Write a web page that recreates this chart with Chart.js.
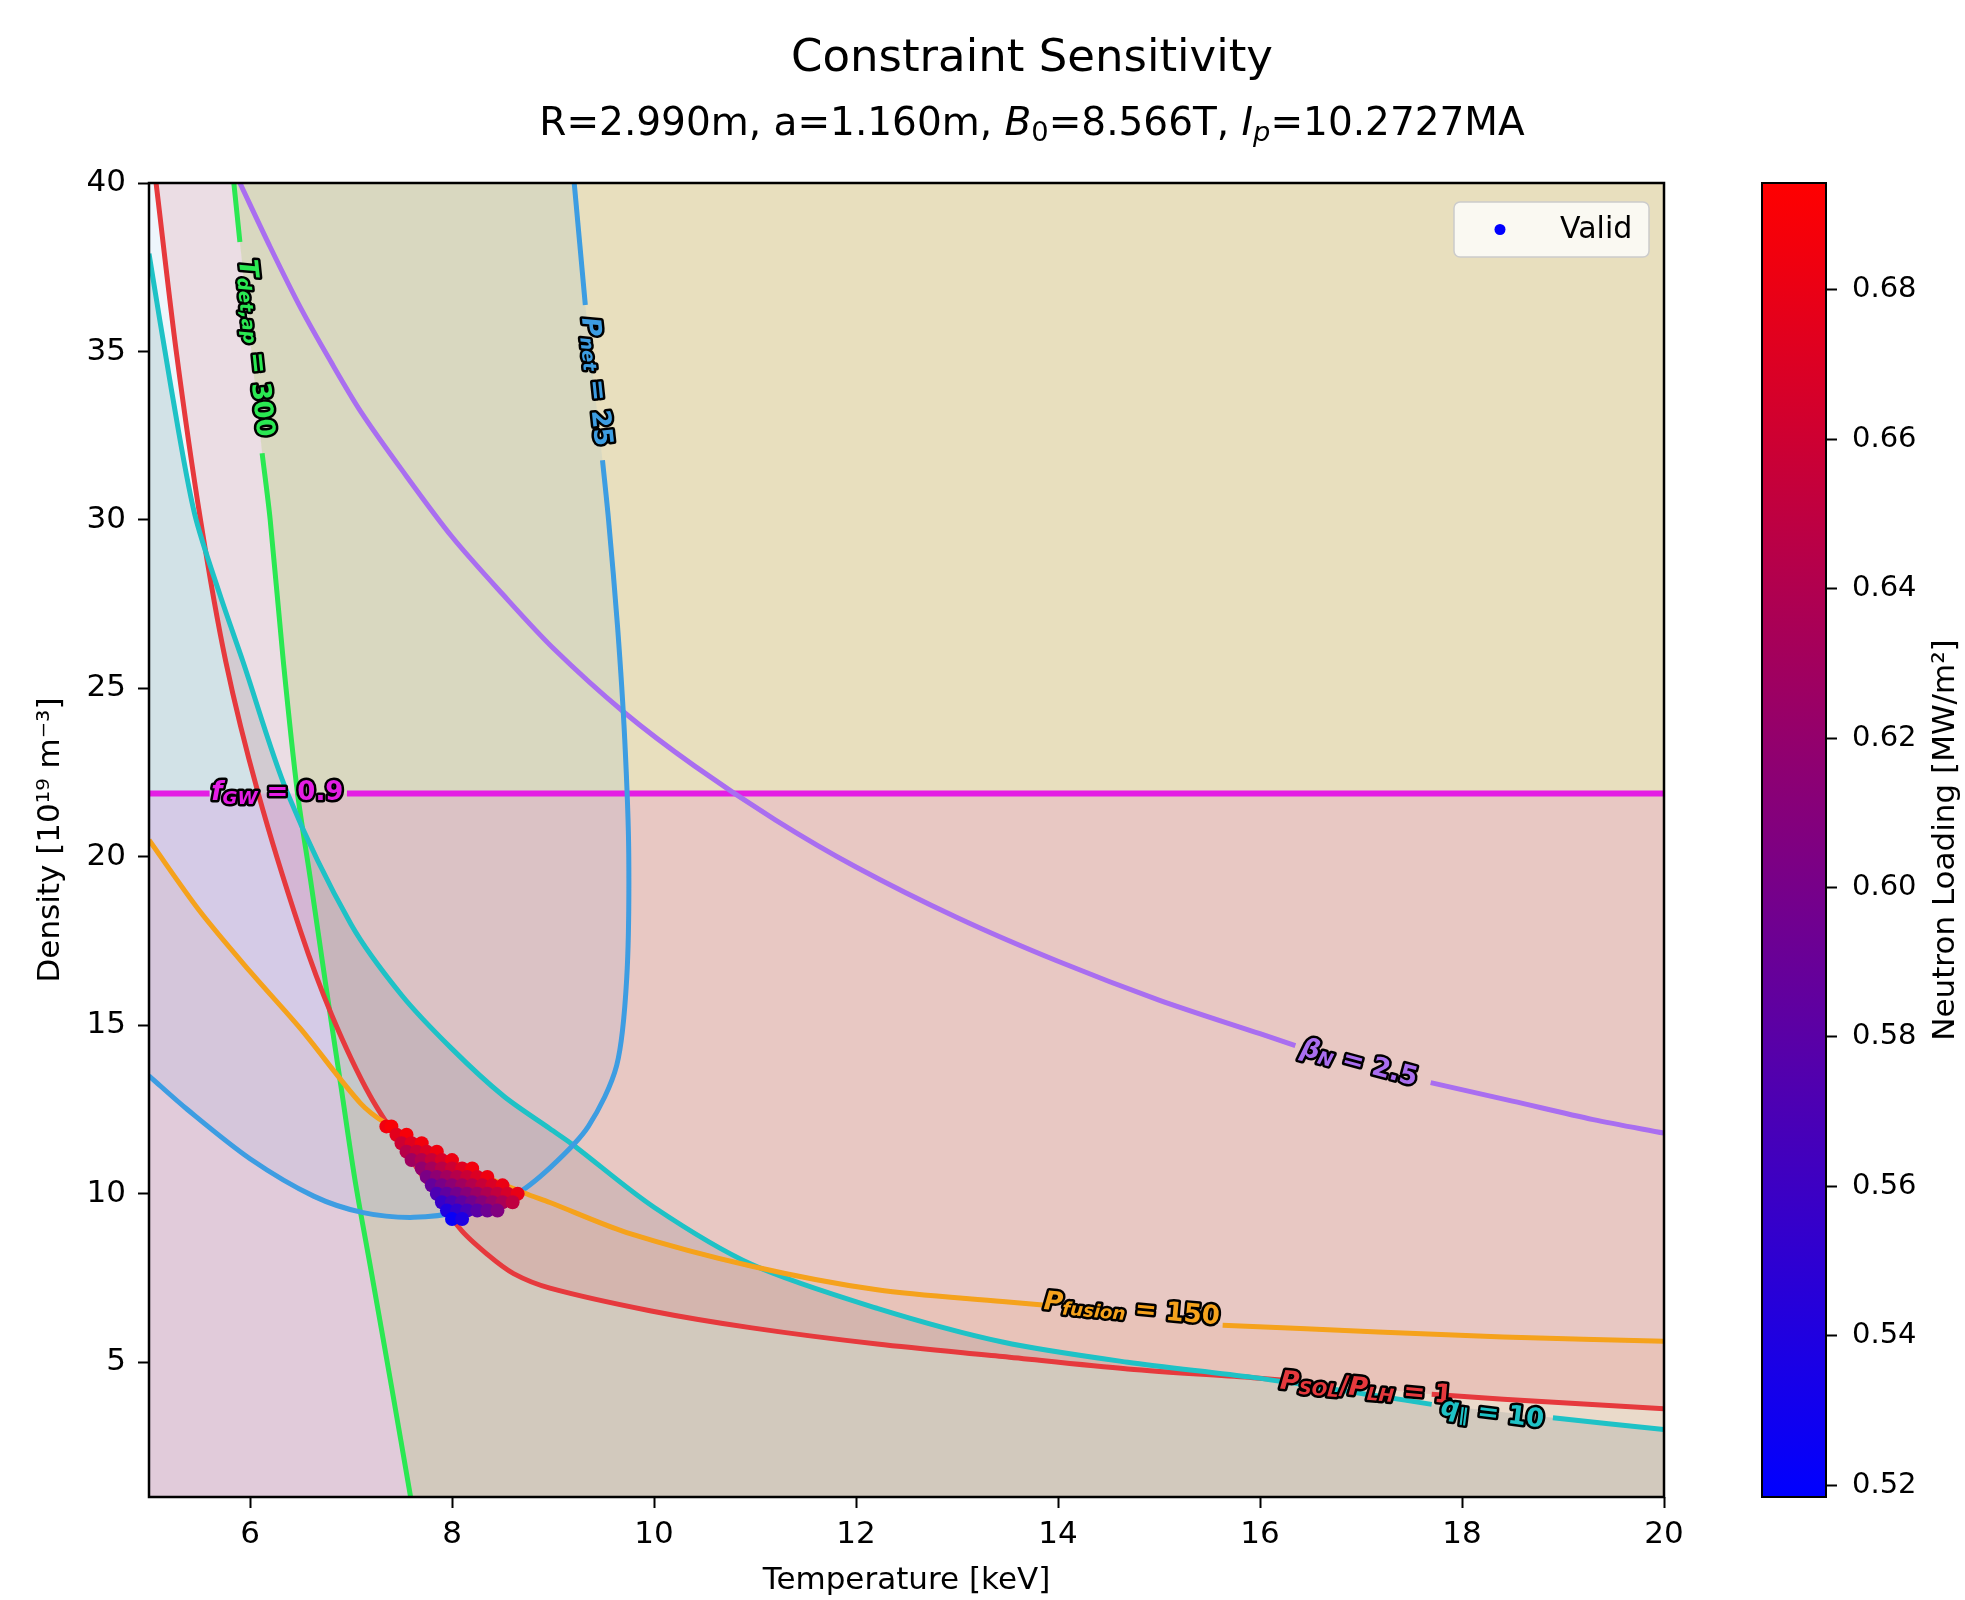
<!DOCTYPE html>
<html>
<head>
<meta charset="utf-8">
<title>Constraint Sensitivity</title>
<script src="https://cdn.jsdelivr.net/npm/chart.js@4.4.1/dist/chart.umd.min.js"></script>
<style>
  html, body { margin: 0; padding: 0; background: #fff; overflow: hidden; }
  #wrap { position: relative; width: 1965px; height: 1600px; }
  #main { position: absolute; left: 0; top: 0; }
  #cbar { position: absolute; left: 1700px; top: 0; }
</style>
</head>
<body>
<div id="wrap">
  <canvas id="main" width="1965" height="1600"></canvas>
  <canvas id="cbar" width="265" height="1600"></canvas>
</div>
<script>
// Constraint sensitivity map — density vs temperature with constraint contours,
// shaded allowed sides and the valid operating points coloured by neutron loading.

const FONT = "'DejaVu Sans', sans-serif";

// --- Data -------------------------------------------------------------------

const T_MIN = 5, T_MAX = 20, T_STEP = 2;
const N_MIN = 1, N_MAX = 40, N_STEP = 5;
const CB_MIN = 0.5184, CB_MAX = 0.6943, CB_STEP = 0.02;

// Contours: temperature [keV] and density [1e19 m^-3].
// null = break in the line where the inline label sits.
const fgwT = [5.0, 5.6, null, 6.96, 20.0];
const fgwN = [21.88, 21.88, null, 21.88, 21.88];

const betaT = [5.9, 6.2, 6.5, 6.8, 7.1, 7.5, 8.0, 8.5, 9.0, 9.7, 10.4, 11.2, 12.0, 13.0, 14.0, 15.0, 16.0, 16.35, null, 17.69, 18.5, 19.3, 20.0];
const betaN = [40.0, 38.1, 36.3, 34.7, 33.2, 31.5, 29.5, 27.8, 26.2, 24.3, 22.7, 21.1, 19.7, 18.2, 16.9, 15.75, 14.75, 14.4, null, 13.3, 12.75, 12.2, 11.8];

const pnetT = [5.0, 5.38, 6.0, 6.63, 7.12, 7.62, 8.11, 8.61, 8.98, 9.35, 9.63, 9.73, 9.75, 9.71, 9.64, 9.55, 9.49, null, 9.32, 9.21];
const pnetN = [13.5, 12.5, 11.04, 9.93, 9.44, 9.3, 9.48, 9.95, 10.8, 12.0, 13.8, 16.4, 20.1, 23.5, 26.8, 30.0, 31.77, null, 36.38, 40.0];

const pfusT = [5.0, 5.5, 6.0, 6.5, 7.09, 7.34, 8.0, 8.71, 8.97, 9.73, 10.97, 12.21, 13.45, 13.85, null, 15.63, 17.17, 18.41, 20.0];
const pfusN = [20.5, 18.4, 16.6, 14.9, 12.7, 12.1, 10.95, 10.03, 9.74, 8.85, 7.85, 7.15, 6.8, 6.7, null, 6.1, 5.9, 5.75, 5.62];

const psolT = [5.07, 5.27, 5.51, 5.76, 6.08, 6.5, 6.81, 7.19, 7.6, 8.08, 8.35, 8.61, 8.97, 9.96, 10.97, 12.21, 13.45, 14.69, 15.93, 16.3, null, 17.7, 18.41, 20.0];
const psolN = [40.0, 35.0, 30.0, 25.8, 21.9, 17.8, 15.3, 12.9, 11.0, 8.96, 8.2, 7.63, 7.2, 6.53, 6.02, 5.54, 5.17, 4.8, 4.54, 4.45, null, 4.05, 3.9, 3.62];

const qT = [5.0, 5.22, 5.45, 5.7, 5.93, 6.37, 7.0, 7.5, 8.0, 8.51, 8.97, 9.19, 10.0, 10.97, 12.21, 13.45, 14.69, 15.93, 17.17, 17.7, null, 18.9, 20.0];
const qN = [37.9, 33.9, 30.2, 27.8, 25.8, 21.9, 18.0, 15.9, 14.3, 12.9, 11.93, 11.47, 9.6, 7.9, 6.6, 5.6, 5.0, 4.55, 4.0, 3.75, null, 3.35, 3.0];

const tdetT = [5.84, 5.9, null, 6.12, 6.2, 6.33, 6.47, 6.6, 6.75, 6.9, 7.04, 7.2, 7.4, 7.59];
const tdetN = [40.0, 38.25, null, 31.98, 30.0, 25.8, 21.9, 19.3, 16.2, 13.2, 10.4, 7.7, 4.3, 1.0];

// Valid operating points and their neutron wall loading [MW/m^2]
const validT = [
  7.35, 7.40,
  7.45, 7.55,
  7.50, 7.60, 7.70,
  7.55, 7.65, 7.75, 7.85,
  7.60, 7.70, 7.80, 7.90, 8.00,
  7.70, 7.80, 7.90, 8.00, 8.10, 8.20,
  7.75, 7.85, 7.95, 8.05, 8.15, 8.25, 8.35,
  7.80, 7.90, 8.00, 8.10, 8.20, 8.30, 8.40, 8.50,
  7.85, 7.95, 8.05, 8.15, 8.25, 8.35, 8.45, 8.55, 8.65,
  7.90, 8.00, 8.10, 8.20, 8.30, 8.40, 8.50, 8.60,
  7.95, 8.05, 8.15, 8.25, 8.35, 8.45,
  8.00, 8.10,
];
const validN = [
  12.0, 12.0,
  11.75, 11.75,
  11.5, 11.5, 11.5,
  11.25, 11.25, 11.25, 11.25,
  11.0, 11.0, 11.0, 11.0, 11.0,
  10.75, 10.75, 10.75, 10.75, 10.75, 10.75,
  10.5, 10.5, 10.5, 10.5, 10.5, 10.5, 10.5,
  10.25, 10.25, 10.25, 10.25, 10.25, 10.25, 10.25, 10.25,
  10.0, 10.0, 10.0, 10.0, 10.0, 10.0, 10.0, 10.0, 10.0,
  9.75, 9.75, 9.75, 9.75, 9.75, 9.75, 9.75, 9.75,
  9.5, 9.5, 9.5, 9.5, 9.5, 9.5,
  9.25, 9.25,
];
const validLoad = [
  0.684, 0.690,
  0.675, 0.689,
  0.659, 0.673, 0.686,
  0.644, 0.657, 0.670, 0.684,
  0.628, 0.641, 0.655, 0.668, 0.682,
  0.619, 0.632, 0.646, 0.659, 0.673, 0.686,
  0.603, 0.616, 0.630, 0.643, 0.657, 0.670, 0.684,
  0.587, 0.601, 0.614, 0.628, 0.641, 0.655, 0.668, 0.681,
  0.571, 0.585, 0.598, 0.612, 0.625, 0.639, 0.652, 0.666, 0.679,
  0.556, 0.569, 0.583, 0.596, 0.610, 0.623, 0.636, 0.650,
  0.540, 0.553, 0.567, 0.580, 0.594, 0.607,
  0.524, 0.538,
];

// --- Styles -----------------------------------------------------------------

const C_FGW = '#e41ee4';
const C_BETA = '#a96ef0';
const C_PNET = '#3d9de2';
const C_PFUS = '#f5a21c';
const C_PSOL = '#e6393d';
const C_Q = '#1ec2c6';
const C_TDET = '#2ae852';
const CMAP = ['#0000ff', '#800080', '#ff0000'];

function hexRgba(hex, a) {
  const v = parseInt(hex.slice(1), 16);
  return `rgba(${(v >> 16) & 255}, ${(v >> 8) & 255}, ${v & 255}, ${a})`;
}

function cmapColor(value) {
  const t = Math.min(1, Math.max(0, (value - CB_MIN) / (CB_MAX - CB_MIN)));
  const seg = t * (CMAP.length - 1);
  const i = Math.min(CMAP.length - 2, Math.floor(seg));
  const f = seg - i;
  const a = parseInt(CMAP[i].slice(1), 16), b = parseInt(CMAP[i + 1].slice(1), 16);
  const mix = sh => Math.round(((a >> sh) & 255) * (1 - f) + ((b >> sh) & 255) * f);
  return `rgb(${mix(16)}, ${mix(8)}, ${mix(0)})`;
}

// --- Dataset builders -------------------------------------------------------

function toPoints(ts, ns) {
  return ts.map((t, i) => ({ x: t === null ? ts[i - 1] : t, y: ns[i] }));
}

function solid(ts, ns) {
  return toPoints(ts, ns).filter(p => p.y !== null);
}

function curve(label, ts, ns, color, width) {
  return {
    type: 'line', label, data: toPoints(ts, ns),
    borderColor: color, borderWidth: width || 5, pointRadius: 0,
    fill: false, spanGaps: false, tension: 0.3, order: 5,
  };
}

function shade(label, points, color, alpha) {
  return {
    type: 'line', label, data: points,
    borderWidth: 0, pointRadius: 0, tension: 0,
    backgroundColor: hexRgba(color, alpha), fill: 'shape', order: 10,
  };
}

// allowed side of each constraint, closed against the plot edges
const shades = [
  shade('fgw-ok', [{ x: T_MIN, y: N_MIN }, ...solid(fgwT, fgwN), { x: T_MAX, y: N_MIN }], C_FGW, 0.12),
  shade('pnet-ok', [{ x: T_MIN, y: N_MAX }, ...solid(pnetT, pnetN), { x: Math.max(...pnetT), y: N_MAX }], C_PNET, 0.09),
  shade('pfus-ok', [{ x: T_MIN, y: N_MIN }, ...solid(pfusT, pfusN), { x: T_MAX, y: N_MIN }], C_PFUS, 0.07),
  shade('psol-ok', [{ x: T_MIN, y: N_MAX }, ...solid(psolT, psolN), { x: T_MAX, y: N_MAX }], C_PSOL, 0.14),
  shade('q-ok', [{ x: T_MIN, y: N_MIN }, ...solid(qT, qN), { x: T_MAX, y: N_MIN }], '#3c7873', 0.16),
  shade('tdet-ok', [...solid(tdetT, tdetN), { x: T_MAX, y: N_MIN }, { x: T_MAX, y: N_MAX }], '#8ceb14', 0.19),
];

const curves = [
  curve('Pfusion', pfusT, pfusN, C_PFUS),
  curve('Pnet', pnetT, pnetN, C_PNET),
  curve('q', qT, qN, C_Q),
  curve('PSOL/PLH', psolT, psolN, C_PSOL),
  curve('Tdet', tdetT, tdetN, C_TDET),
  curve('betaN', betaT, betaN, C_BETA),
  curve('fGW', fgwT, fgwN, C_FGW, 6),
];

const validSet = {
  type: 'scatter', label: 'Valid',
  data: validT.map((t, i) => ({ x: t, y: validN[i] })),
  pointRadius: 7, pointBorderWidth: 0,
  pointBackgroundColor: validLoad.map(cmapColor),
  order: 1,
};

// --- Text helpers -----------------------------------------------------------

// runs: [text, flags] where flags holds 'i' for italic, 's' for subscript
function richText(ctx, runs, size, x, y, fill, stroke, weight) {
  const w = weight || 'normal';
  const parts = runs.map(([text, flags]) => {
    const sub = flags.includes('s');
    const px = sub ? size * 0.7 : size;
    const font = `${flags.includes('i') ? 'italic ' : ''}${w} ${px}px ${FONT}`;
    ctx.font = font;
    return { text, font, w: ctx.measureText(text).width, dy: sub ? size * 0.22 : 0 };
  });
  const total = parts.reduce((s, p) => s + p.w, 0);
  ctx.textBaseline = 'middle';
  ctx.textAlign = 'left';
  if (stroke) {
    let cx = x - total / 2;
    ctx.lineJoin = 'round';
    ctx.lineWidth = stroke;
    ctx.strokeStyle = '#000';
    for (const p of parts) { ctx.font = p.font; ctx.strokeText(p.text, cx, y + p.dy); cx += p.w; }
  }
  let cx = x - total / 2;
  ctx.fillStyle = fill;
  for (const p of parts) { ctx.font = p.font; ctx.fillText(p.text, cx, y + p.dy); cx += p.w; }
}

// inline contour labels, anchored in data units
const contourLabels = [
  { runs: [['f', 'i'], ['GW', 'is'], [' = 0.9', '']], t: 6.27, n: 21.88, angle: 0, color: C_FGW },
  { runs: [['T', 'i'], ['det,ap', 'is'], [' = 300', '']], t: 6.05, n: 35.1, angle: 84, color: C_TDET },
  { runs: [['P', 'i'], ['net', 'is'], [' = 25', '']], t: 9.42, n: 34.1, angle: 84, color: C_PNET },
  { runs: [['β', 'i'], ['N', 'is'], [' = 2.5', '']], t: 16.98, n: 13.86, angle: 15, color: C_BETA },
  { runs: [['P', 'i'], ['fusion', 'is'], [' = 150', '']], t: 14.73, n: 6.55, angle: 5, color: C_PFUS },
  { runs: [['P', 'i'], ['SOL', 'is'], ['/', ''], ['P', 'i'], ['LH', 'is'], [' = 1', '']], t: 17.05, n: 4.2, angle: 5, color: C_PSOL },
  { runs: [['q', 'i'], ['∥', 's'], [' = 10', '']], t: 18.3, n: 3.45, angle: 7, color: C_Q },
];

const overlayPlugin = {
  id: 'overlay',
  afterDatasetsDraw(chart) {
    const { ctx, chartArea: a, scales: { x, y } } = chart;
    ctx.save();
    for (const lb of contourLabels) {
      ctx.save();
      ctx.translate(x.getPixelForValue(lb.t), y.getPixelForValue(lb.n));
      ctx.rotate(lb.angle * Math.PI / 180);
      richText(ctx, lb.runs, 26, 0, 0, lb.color, 5, 'bold');
      ctx.restore();
    }

    // legend box, upper right
    const bw = 195, bh = 55;
    const bx = a.right - 15 - bw, by = a.top + 19;
    ctx.beginPath();
    ctx.roundRect(bx, by, bw, bh, 6);
    ctx.fillStyle = 'rgba(255, 255, 255, 0.8)';
    ctx.fill();
    ctx.strokeStyle = '#cccccc';
    ctx.lineWidth = 1.5;
    ctx.stroke();
    ctx.beginPath();
    ctx.arc(bx + 46, by + bh / 2, 5.5, 0, Math.PI * 2);
    ctx.fillStyle = '#0000ff';
    ctx.fill();
    ctx.fillStyle = '#000';
    ctx.font = `30px ${FONT}`;
    ctx.textBaseline = 'middle';
    ctx.textAlign = 'left';
    ctx.fillText(validSet.label, bx + 106, by + bh / 2 + 1);

    // axes frame
    ctx.strokeStyle = '#000';
    ctx.lineWidth = 2.5;
    ctx.strokeRect(a.left, a.top, a.right - a.left, a.bottom - a.top);

    // titles
    richText(ctx, [['Constraint Sensitivity', '']], 45, 1032, 59, '#000', 0);
    richText(ctx, [
      ['R=2.990m, a=1.160m, ', ''], ['B', 'i'], ['0', 's'], ['=8.566T, ', ''],
      ['I', 'i'], ['p', 'is'], ['=10.2727MA', ''],
    ], 39, 1032, 125, '#000', 0);
    ctx.restore();
  },
};

// --- Main chart -------------------------------------------------------------

const AREA = { left: 149, right: 1664, top: 183, bottom: 1497 };

Chart.defaults.font.family = FONT;
Chart.defaults.color = '#000';

new Chart(document.getElementById('main'), {
  type: 'scatter',
  data: { datasets: [...shades, ...curves, validSet] },
  options: {
    responsive: false,
    devicePixelRatio: 1,
    animation: false,
    layout: { padding: { left: 0, top: AREA.top, right: 1965 - AREA.right, bottom: 0 } },
    plugins: { legend: { display: false }, tooltip: { enabled: false }, title: { display: false } },
    scales: {
      x: {
        type: 'linear', min: T_MIN, max: T_MAX,
        ticks: { stepSize: T_STEP, includeBounds: false, font: { size: 31 }, padding: 8 },
        grid: { drawOnChartArea: false, tickLength: 11, tickWidth: 2, tickColor: '#000' },
        border: { display: false },
        title: { display: true, text: 'Temperature [keV]', font: { size: 31 }, padding: { top: 0, bottom: 0 } },
        afterFit(scale) { scale.height = 1600 - AREA.bottom; },
      },
      y: {
        type: 'linear', min: N_MIN, max: N_MAX,
        ticks: { stepSize: N_STEP, includeBounds: false, font: { size: 31 }, padding: 12 },
        grid: { drawOnChartArea: false, tickLength: 11, tickWidth: 2, tickColor: '#000' },
        border: { display: false },
        title: { display: true, text: 'Density [10¹⁹ m⁻³]', font: { size: 31 }, padding: { top: 32, bottom: 0 } },
        afterFit(scale) { scale.width = AREA.left; },
      },
    },
  },
  plugins: [overlayPlugin],
});

// --- Colorbar ---------------------------------------------------------------

const colorbarPlugin = {
  id: 'colorbar',
  afterDraw(chart) {
    const { ctx, chartArea: a } = chart;
    ctx.save();
    const g = ctx.createLinearGradient(0, a.bottom, 0, a.top);
    CMAP.forEach((c, i) => g.addColorStop(i / (CMAP.length - 1), c));
    ctx.fillStyle = g;
    ctx.fillRect(a.left, a.top, a.right - a.left, a.bottom - a.top);
    ctx.strokeStyle = '#000';
    ctx.lineWidth = 2;
    ctx.strokeRect(a.left, a.top, a.right - a.left, a.bottom - a.top);
    ctx.translate(246, (a.top + a.bottom) / 2);
    ctx.rotate(-Math.PI / 2);
    ctx.fillStyle = '#000';
    ctx.font = `31px ${FONT}`;
    ctx.textAlign = 'center';
    ctx.textBaseline = 'middle';
    ctx.fillText('Neutron Loading [MW/m²]', 0, 0);
    ctx.restore();
  },
};

new Chart(document.getElementById('cbar'), {
  type: 'scatter',
  data: { datasets: [] },
  options: {
    responsive: false,
    devicePixelRatio: 1,
    animation: false,
    layout: { padding: { left: 62, top: AREA.top, right: 0, bottom: 1600 - AREA.bottom } },
    plugins: { legend: { display: false }, tooltip: { enabled: false } },
    scales: {
      x: { display: false },
      y: {
        position: 'right', min: CB_MIN, max: CB_MAX,
        ticks: { stepSize: CB_STEP, includeBounds: false, font: { size: 29 }, padding: 15, callback: v => v.toFixed(2) },
        grid: { drawOnChartArea: false, tickLength: 11, tickWidth: 2, tickColor: '#000' },
        border: { display: false },
        afterFit(scale) { scale.width = 265 - 62 - 64; },
      },
    },
  },
  plugins: [colorbarPlugin],
});
</script>
</body>
</html>
